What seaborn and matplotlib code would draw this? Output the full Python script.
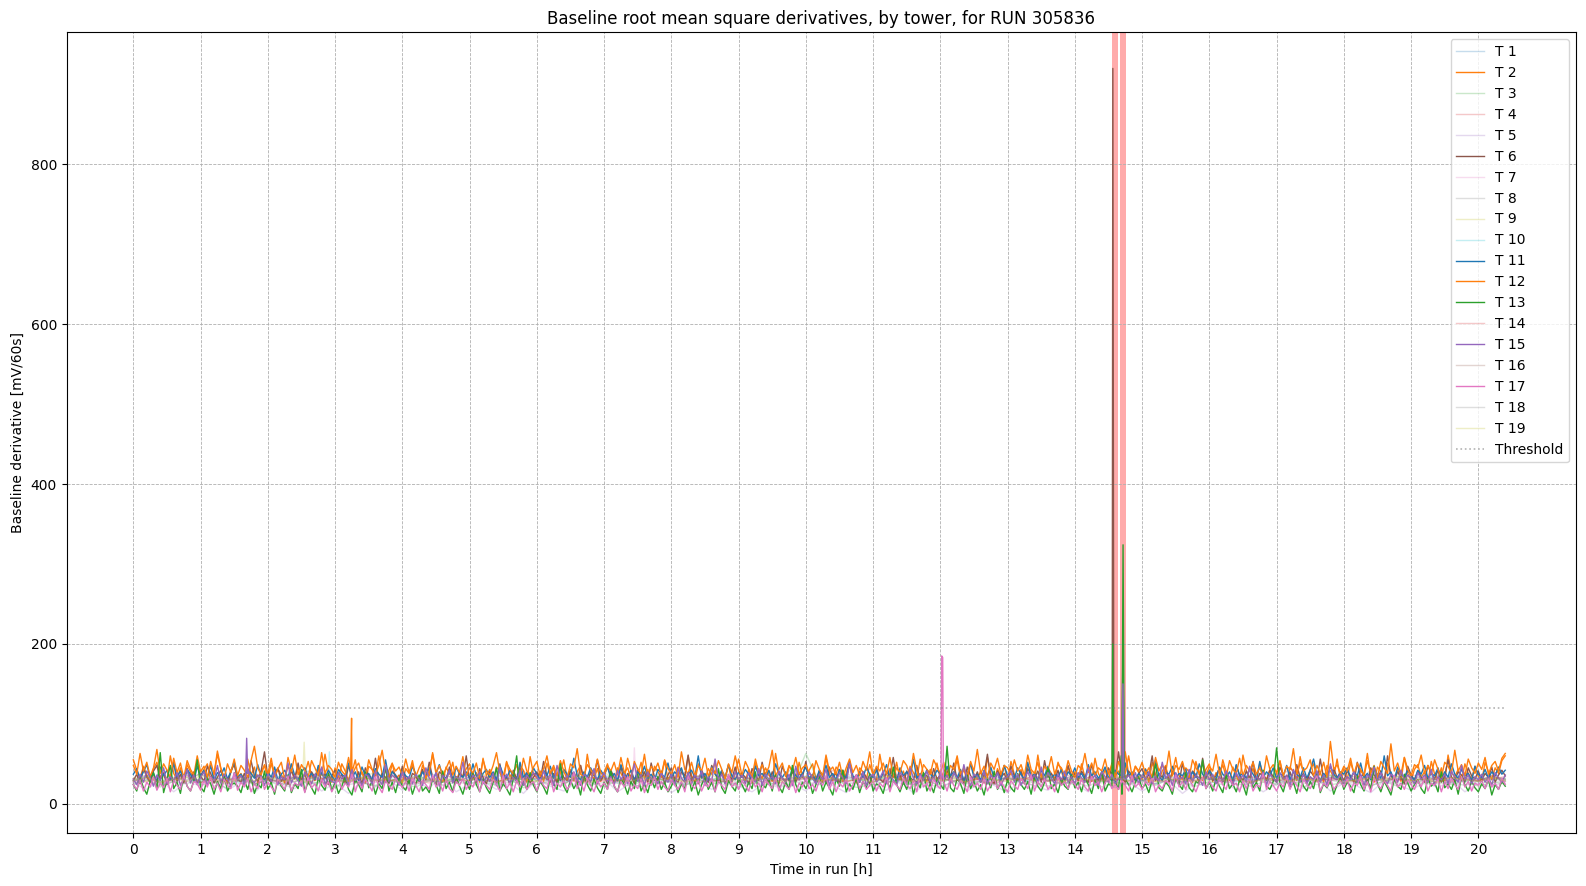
import numpy as np
import pandas as pd
import matplotlib
matplotlib.use("Agg")
import matplotlib.pyplot as plt
import seaborn as sns

RUN = 305836
THRESHOLD = 120
RUN_END_H = 20.4
FLAG_SPANS = [(14.55, 14.635), (14.665, 14.765)]

# ---- highlighted towers, sampled every 3 min (0.05 h) from 0 to 20.4 h ----
t2 = [55, 42, 31, 47, 36, 28, 44, 52, 33, 39, 29, 60, 38, 30, 45, 27, 49, 40, 31, 53,
      35, 43, 50, 29, 37, 66, 45, 33, 27, 42, 49, 31, 38, 28, 56, 36, 46, 26, 40, 48,
      30, 51, 34, 43, 37, 26, 58, 41, 32, 46, 28, 38, 53, 35, 29, 44, 36, 62, 39, 27,
      45, 32, 50, 41, 28, 36, 55, 31, 40, 26, 47, 43, 33, 60, 37, 27, 42, 51, 31, 36,
      26, 44, 38, 54, 33, 29, 48, 40, 35, 64, 41, 31, 27, 46, 37, 52, 28, 40, 34, 44,
      50, 31, 39, 27, 57, 35, 43, 29, 46, 40, 26, 53, 34, 39, 30, 48, 42, 27, 59, 37,
      32, 41, 28, 51, 35, 45, 26, 38, 55, 32, 43, 29, 40, 48, 27, 62, 37, 31, 44, 28,
      39, 50, 33, 27, 45, 38, 30, 57, 41, 28, 35, 52, 31, 43, 26, 47, 40, 33, 54, 30,
      38, 28, 46, 43, 31, 60, 35, 27, 50, 39, 30, 44, 37, 53, 28, 41, 33, 49, 27, 38,
      56, 35, 29, 43, 26, 51, 40, 31, 45, 37, 28, 63, 38, 33, 27, 47, 41, 30, 52, 35,
      28, 42, 50, 31, 39, 27, 58, 37, 29, 46, 41, 28, 38, 54, 33, 26, 45, 40, 31, 49,
      36, 29, 62, 38, 28, 44, 34, 52, 30, 41, 27, 47, 39, 31, 56, 37, 28, 43, 33, 51,
      30, 40, 46, 27, 38, 55, 33, 43, 28, 50, 37, 31, 41, 26, 58, 38, 29, 44, 34, 48,
      28, 53, 37, 30, 43, 27, 49, 40, 29, 61, 35, 28, 45, 38, 31, 52, 41, 27, 46, 36,
      40, 29, 50, 33, 44, 28, 57, 38, 30, 43, 27, 51, 35, 41, 29, 65, 37, 28, 47, 39,
      31, 44, 27, 52, 37, 29, 41, 48, 28, 39, 58, 35, 30, 45, 40, 27, 53, 37, 29, 43,
      50, 28, 39, 31, 55, 40, 29, 46, 35, 27, 61, 41, 32, 44, 28, 51, 37, 30, 43, 29,
      38, 54, 33, 27, 46, 40, 29, 59, 37, 28, 43, 50, 31, 39, 27, 48, 41, 34, 56, 30,
      44, 30, 52, 38, 28, 42, 35, 63, 33, 27, 46, 40, 29, 51, 37, 30, 44, 28, 58, 38,
      29, 43, 49, 33, 40, 27, 53, 37, 30, 45, 28, 61, 39, 34, 43, 29, 50, 38, 31, 47,
      34, 28, 52, 40, 30, 45, 38, 54, 60]
t12 = [48, 37, 63, 41, 52, 34, 45, 68, 38, 50, 42, 33, 57, 39, 51, 32, 54, 43, 36, 60,
       40, 47, 33, 53, 37, 62, 44, 31, 50, 39, 56, 35, 48, 42, 33, 54, 72, 45, 36, 49,
       37, 57, 34, 44, 52, 31, 47, 40, 61, 36, 49, 42, 33, 54, 45, 35, 64, 38, 48, 43,
       33, 52, 41, 36, 58, 35, 45, 51, 38, 31, 55, 43, 36, 48, 67, 40, 33, 50, 41, 46,
       36, 56, 39, 49, 34, 45, 53, 32, 41, 62, 38, 48, 35, 44, 54, 36, 47, 39, 59, 34,
       45, 38, 51, 32, 55, 41, 36, 48, 64, 39, 34, 52, 43, 37, 49, 32, 57, 41, 35, 46,
       53, 34, 44, 60, 38, 48, 35, 54, 41, 31, 50, 45, 69, 37, 34, 49, 43, 36, 56, 39,
       34, 48, 41, 52, 36, 58, 39, 45, 31, 53, 43, 37, 62, 34, 47, 41, 51, 36, 55, 44,
       37, 49, 33, 65, 43, 38, 52, 35, 48, 41, 57, 34, 45, 38, 54, 43, 31, 50, 39, 60,
       41, 35, 53, 44, 33, 56, 39, 49, 37, 46, 67, 35, 43, 51, 34, 48, 41, 58, 37, 45,
       49, 38, 33, 54, 43, 35, 61, 41, 46, 37, 52, 33, 45, 56, 39, 48, 35, 53, 42, 65,
       35, 47, 41, 51, 37, 58, 33, 45, 39, 54, 48, 35, 63, 41, 33, 49, 43, 37, 55, 46,
       38, 52, 33, 48, 43, 60, 37, 45, 35, 53, 41, 68, 38, 47, 33, 51, 43, 57, 37, 48,
       45, 36, 55, 41, 49, 35, 61, 43, 38, 52, 33, 47, 41, 59, 37, 49, 45, 35, 54, 41,
       33, 48, 43, 63, 39, 51, 35, 45, 41, 56, 37, 49, 33, 53, 43, 38, 60, 35, 47, 41,
       52, 37, 45, 33, 58, 41, 49, 38, 66, 35, 48, 43, 53, 37, 33, 55, 45, 38, 51, 35,
       47, 41, 62, 37, 49, 33, 54, 43, 38, 57, 35, 48, 41, 52, 37, 45, 33, 60, 43, 49,
       38, 53, 35, 47, 43, 69, 37, 51, 41, 45, 55, 35, 48, 38, 52, 33, 78, 43, 49, 37,
       47, 41, 57, 37, 51, 43, 35, 54, 38, 48, 33, 53, 45, 38, 75, 41, 51, 37, 58, 43,
       35, 49, 45, 61, 38, 48, 37, 55, 43, 33, 52, 47, 38, 67, 41, 49, 35, 56, 45, 38,
       51, 43, 58, 37, 48, 53, 41, 57, 63]
t6 = [29, 37, 25, 45, 33, 27, 41, 48, 30, 38, 24, 34, 52, 28, 37, 26, 44, 31, 40, 25,
      35, 28, 47, 38, 26, 33, 42, 29, 24, 40, 50, 31, 27, 38, 29, 54, 35, 28, 41, 65,
      33, 26, 38, 45, 28, 35, 24, 42, 31, 51, 29, 37, 25, 40, 33, 46, 27, 38, 24, 35,
      42, 29, 37, 26, 48, 33, 27, 40, 24, 45, 35, 29, 57, 27, 38, 33, 25, 41, 36, 28,
      47, 31, 25, 38, 35, 28, 43, 30, 52, 33, 24, 40, 36, 27, 46, 31, 26, 38, 33, 60,
      29, 38, 27, 44, 33, 25, 40, 36, 29, 50, 27, 35, 24, 42, 31, 45, 27, 38, 26, 33,
      40, 29, 53, 35, 27, 38, 25, 46, 33, 29, 41, 36, 25, 48, 31, 27, 40, 35, 55, 29,
      36, 25, 42, 33, 29, 47, 27, 38, 35, 25, 44, 31, 40, 27, 51, 33, 29, 41, 25, 36,
      45, 31, 27, 40, 35, 61, 29, 37, 25, 42, 33, 27, 48, 38, 29, 41, 25, 35, 31, 46,
      27, 38, 33, 25, 44, 36, 29, 52, 33, 27, 40, 31, 25, 47, 36, 29, 41, 27, 38, 33,
      53, 29, 36, 25, 41, 35, 27, 46, 33, 38, 25, 42, 31, 50, 29, 36, 27, 40, 33, 25,
      38, 45, 31, 27, 40, 35, 58, 29, 36, 25, 41, 33, 29, 48, 27, 38, 35, 25, 44, 31,
      36, 27, 41, 33, 51, 29, 38, 25, 46, 35, 29, 40, 27, 36, 62, 31, 25, 41, 33, 38,
      27, 47, 35, 29, 40, 25, 44, 36, 31, 41, 27, 54, 33, 38, 29, 42, 25, 36, 48, 31,
      38, 29, 41, 33, 27, 49, 35, 29, 40, 25, 45, 36, 31, 65, 33, 27, 41, 35, 29, 38,
      44, 31, 36, 60, 29, 38, 33, 46, 27, 40, 35, 25, 51, 33, 29, 41, 36, 27, 57, 33,
      40, 29, 35, 45, 27, 38, 33, 25, 48, 36, 29, 41, 31, 53, 27, 38, 35, 29, 42, 33,
      27, 46, 36, 29, 40, 25, 49, 33, 38, 27, 41, 35, 29, 56, 31, 36, 25, 44, 33, 38,
      29, 41, 35, 27, 52, 33, 38, 25, 45, 36, 31, 41, 27, 60, 35, 29, 40, 33, 25, 47,
      36, 29, 41, 33, 27, 48, 38, 31, 42, 27, 35, 55, 33, 29, 40, 36, 27, 45, 35, 31,
      41, 29, 38, 33, 46, 27, 36, 42, 35]
t11 = [37, 44, 31, 40, 49, 33, 38, 28, 46, 35, 42, 30, 51, 34, 41, 31, 43, 37, 28, 47,
       35, 42, 32, 48, 29, 39, 35, 45, 31, 40, 53, 34, 37, 29, 43, 38, 32, 49, 35, 30,
       40, 33, 46, 29, 37, 42, 32, 50, 35, 29, 40, 45, 33, 38, 30, 48, 37, 32, 42, 35,
       29, 43, 37, 33, 51, 32, 40, 29, 46, 35, 38, 30, 44, 37, 33, 55, 32, 40, 35, 29,
       42, 35, 32, 47, 37, 29, 40, 33, 45, 30, 38, 49, 35, 32, 42, 29, 46, 37, 33, 40,
       32, 50, 35, 29, 38, 43, 33, 40, 30, 48, 37, 32, 42, 35, 29, 52, 33, 39, 32, 45,
       37, 30, 42, 35, 47, 32, 38, 29, 43, 37, 33, 57, 35, 30, 40, 33, 45, 37, 29, 42,
       35, 46, 32, 38, 29, 49, 37, 33, 42, 30, 40, 35, 47, 32, 37, 29, 43, 38, 33, 51,
       32, 40, 35, 45, 30, 37, 42, 33, 60, 32, 38, 29, 46, 37, 33, 42, 32, 49, 35, 30,
       40, 33, 43, 37, 29, 47, 35, 38, 32, 42, 30, 50, 37, 33, 40, 29, 45, 35, 32, 38,
       46, 32, 37, 29, 42, 35, 48, 33, 38, 30, 43, 37, 32, 53, 35, 29, 40, 33, 46, 37,
       33, 42, 30, 38, 49, 32, 37, 29, 45, 35, 40, 33, 56, 32, 38, 30, 43, 37, 33, 42,
       37, 30, 47, 35, 40, 32, 43, 29, 38, 50, 33, 37, 30, 42, 35, 46, 32, 38, 29, 48,
       35, 40, 32, 45, 37, 30, 52, 33, 38, 29, 42, 35, 47, 32, 37, 33, 43, 30, 40, 35,
       45, 33, 38, 30, 49, 35, 40, 32, 37, 46, 33, 29, 42, 37, 32, 51, 35, 40, 30, 38,
       33, 43, 37, 32, 55, 35, 29, 40, 37, 47, 32, 38, 35, 43, 30, 40, 33, 50, 37, 32,
       42, 35, 30, 46, 37, 33, 40, 29, 49, 35, 38, 32, 43, 37, 30, 53, 33, 40, 35, 45,
       32, 38, 35, 48, 30, 40, 37, 33, 45, 32, 42, 56, 35, 29, 38, 33, 47, 37, 32, 40,
       37, 45, 32, 40, 35, 51, 33, 38, 30, 43, 37, 32, 60, 35, 40, 29, 46, 37, 33, 42,
       35, 30, 42, 37, 48, 32, 38, 35, 45, 30, 40, 33, 50, 37, 32, 43, 35, 38, 29, 47,
       37, 33, 43, 32, 40, 35, 46, 37, 42]
t13 = [24, 16, 33, 20, 12, 28, 39, 18, 64, 14, 30, 48, 19, 27, 13, 36, 22, 16, 29, 55,
       21, 15, 32, 25, 12, 28, 19, 37, 16, 24, 26, 22, 14, 30, 18, 34, 13, 25, 20, 41,
       18, 27, 12, 31, 22, 16, 36, 14, 25, 19, 43, 15, 28, 20, 12, 32, 23, 17, 38, 16,
       27, 13, 22, 34, 18, 11, 30, 24, 15, 40, 20, 28, 12, 25, 19, 47, 16, 27, 14, 32,
       22, 17, 30, 12, 25, 36, 16, 21, 14, 31, 24, 13, 41, 19, 27, 15, 34, 22, 12, 28,
       18, 38, 24, 15, 31, 20, 13, 27, 45, 16, 25, 19, 11, 32, 60, 14, 29, 18, 39, 23,
       15, 28, 21, 12, 34, 25, 18, 50, 22, 14, 30, 19, 27, 11, 36, 24, 16, 31, 20, 13,
       27, 18, 41, 22, 15, 32, 24, 12, 28, 19, 37, 16, 25, 14, 31, 20, 34, 18, 27, 15,
       22, 31, 14, 25, 19, 38, 16, 28, 11, 24, 33, 18, 27, 15, 44, 20, 13, 29, 22, 16,
       32, 24, 15, 27, 19, 40, 12, 25, 20, 31, 16, 36, 22, 14, 28, 18, 48, 24, 15, 27,
       19, 30, 13, 24, 35, 16, 27, 20, 11, 31, 22, 42, 15, 25, 18, 32, 14, 28, 20, 38,
       16, 25, 22, 13, 30, 19, 46, 24, 15, 27, 18, 34, 12, 28, 20, 39, 16, 25, 14, 31,
       24, 18, 72, 20, 15, 32, 25, 13, 36, 19, 28, 16, 24, 11, 31, 20, 41, 18, 27, 14,
       30, 20, 15, 38, 24, 18, 28, 12, 34, 22, 16, 27, 45, 19, 25, 14, 31, 22, 18, 36,
       20, 27, 15, 32, 24, 13, 30, 19, 40, 16, 25, 22, 28, 18, 12, 31, 24, 15, 27, 34,
       19, 25, 14, 30, 50, 20, 16, 27, 22, 12, 32, 24, 18, 39, 20, 15, 28, 25, 55, 19,
       27, 16, 31, 22, 14, 36, 19, 25, 15, 30, 24, 11, 33, 20, 27, 16, 42, 22, 18, 28,
       70, 24, 15, 31, 20, 27, 13, 34, 22, 16, 28, 19, 38, 14, 25, 20, 30, 12, 24, 33,
       18, 27, 22, 14, 35, 24, 16, 30, 19, 47, 25, 15, 28, 20, 11, 31, 22, 18, 37, 26,
       16, 24, 30, 19, 13, 32, 22, 27, 15, 40, 20, 25, 18, 30, 12, 34, 24, 16, 28, 20,
       15, 25, 19, 31, 11, 24, 18, 28, 22]
t15 = [31, 24, 37, 27, 41, 33, 22, 36, 29, 45, 25, 34, 29, 39, 23, 31, 43, 26, 36, 24,
       33, 40, 23, 34, 29, 48, 26, 37, 31, 22, 39, 29, 35, 24, 44, 31, 26, 36, 33, 23,
       37, 28, 41, 24, 34, 30, 51, 26, 36, 29, 22, 40, 33, 25, 37, 30, 46, 24, 34, 28,
       26, 39, 31, 36, 23, 43, 29, 33, 22, 37, 34, 25, 41, 30, 24, 49, 28, 36, 32, 23,
       40, 28, 34, 25, 37, 30, 23, 45, 32, 28, 39, 22, 36, 30, 42, 26, 34, 29, 52, 32,
       24, 36, 30, 40, 25, 34, 28, 38, 23, 46, 30, 37, 25, 33, 28, 42, 23, 36, 30, 39,
       34, 26, 41, 30, 37, 23, 48, 32, 27, 36, 25, 40, 30, 23, 37, 33, 27, 44, 25, 32,
       39, 28, 34, 23, 42, 30, 37, 25, 32, 50, 28, 36, 23, 40, 30, 34, 25, 38, 32, 27,
       37, 23, 45, 32, 27, 39, 25, 36, 30, 41, 23, 34, 28, 56, 30, 37, 25, 34, 28, 40,
       30, 36, 25, 39, 32, 27, 44, 23, 37, 30, 34, 25, 41, 32, 27, 37, 23, 47, 30, 36,
       28, 40, 32, 25, 37, 30, 43, 23, 34, 28, 39, 32, 25, 51, 30, 36, 27, 40, 23, 34,
       37, 27, 32, 41, 25, 36, 30, 23, 39, 33, 27, 45, 32, 25, 37, 30, 41, 28, 34, 23,
       40, 30, 36, 25, 39, 32, 27, 49, 30, 23, 37, 34, 27, 41, 25, 36, 30, 39, 23, 32,
       34, 42, 27, 37, 23, 32, 40, 30, 36, 25, 46, 28, 39, 32, 25, 37, 30, 41, 27, 34,
       25, 39, 32, 27, 45, 30, 36, 23, 40, 34, 27, 37, 25, 32, 41, 30, 36, 27, 39, 25,
       36, 30, 40, 25, 34, 28, 52, 32, 37, 23, 39, 30, 34, 25, 43, 28, 36, 32, 23, 40,
       30, 37, 25, 34, 28, 41, 32, 23, 39, 30, 36, 27, 47, 25, 34, 30, 40, 23, 37, 32,
       27, 39, 30, 36, 23, 43, 32, 27, 37, 25, 34, 30, 41, 27, 36, 23, 50, 32, 30, 37,
       25, 34, 30, 40, 27, 37, 23, 36, 32, 46, 28, 39, 30, 25, 37, 34, 27, 42, 30, 36,
       32, 25, 39, 30, 36, 27, 43, 23, 34, 30, 37, 25, 41, 32, 27, 48, 30, 36, 25, 34,
       30, 37, 27, 34, 23, 39, 32, 27, 36]
t17 = [24, 18, 30, 16, 27, 21, 34, 17, 26, 20, 32, 15, 29, 23, 18, 36, 22, 16, 28, 25,
       17, 29, 21, 33, 18, 26, 15, 31, 23, 19, 38, 17, 27, 21, 32, 15, 25, 19, 34, 18,
       27, 21, 15, 31, 24, 18, 35, 16, 26, 23, 29, 14, 33, 20, 25, 16, 31, 21, 28, 15,
       23, 32, 18, 26, 21, 37, 15, 28, 19, 31, 24, 16, 34, 21, 14, 29, 23, 18, 32, 26,
       20, 28, 16, 33, 23, 15, 29, 24, 18, 36, 21, 27, 16, 31, 19, 14, 28, 23, 32, 18,
       26, 21, 33, 15, 28, 23, 18, 31, 24, 16, 35, 19, 26, 15, 29, 21, 32, 18, 24, 28,
       16, 31, 23, 19, 34, 15, 26, 21, 29, 18, 24, 39, 19, 28, 16, 32, 23, 15, 29, 21,
       26, 18, 32, 23, 15, 28, 21, 34, 16, 24, 19, 31, 14, 26, 23, 33, 18, 28, 21, 16,
       30, 23, 18, 28, 15, 35, 24, 19, 29, 16, 26, 21, 32, 15, 28, 23, 18, 37, 21, 26,
       18, 29, 23, 16, 32, 21, 26, 15, 31, 24, 19, 33, 16, 28, 23, 18, 29, 14, 26, 21,
       32, 19, 24, 16, 29, 23, 34, 18, 28, 15, 26, 21, 31, 16, 24, 36, 19, 28, 18, 23,
       29, 16, 26, 21, 33, 15, 28, 23, 18, 32, 24, 19, 29, 15, 35, 21, 26, 16, 31, 23,
       19, 28, 16, 32, 23, 18, 29, 24, 15, 34, 21, 26, 18, 31, 16, 24, 33, 19, 28, 21,
       15, 29, 23, 18, 32, 26, 19, 37, 16, 28, 21, 31, 18, 24, 15, 33, 23, 28, 19, 29,
       24, 18, 31, 21, 16, 34, 23, 28, 15, 26, 32, 19, 24, 18, 29, 23, 16, 35, 21, 26,
       18, 28, 23, 32, 15, 24, 19, 29, 26, 16, 36, 21, 28, 18, 31, 23, 15, 26, 33, 19,
       28, 21, 16, 31, 24, 18, 34, 23, 26, 15, 29, 19, 32, 16, 24, 21, 38, 18, 28, 23,
       16, 26, 21, 33, 18, 29, 23, 15, 31, 24, 19, 28, 35, 16, 26, 21, 32, 18, 24, 29,
       21, 31, 16, 26, 23, 34, 18, 28, 15, 32, 24, 19, 29, 23, 16, 36, 21, 26, 18, 31,
       24, 18, 29, 21, 33, 16, 26, 23, 31, 15, 28, 19, 32, 24, 18, 34, 21, 28, 16, 26,
       23, 29, 19, 31, 21, 26, 18, 32, 24]

# ---- quiet towers, sampled every 12 min (0.2 h) from 0 to 20.4 h ----
t1 = [28, 34, 25, 31, 38, 27, 33, 29, 36, 24, 30, 35, 27, 41, 29, 32, 26, 37, 30, 28,
      33, 26, 39, 30, 27, 34, 31, 25, 36, 29, 32, 28, 43, 27, 31, 35, 26, 33, 29, 37,
      30, 25, 34, 28, 38, 31, 27, 33, 29, 45, 28, 32, 26, 35, 30, 27, 36, 31, 24, 33,
      29, 37, 27, 32, 30, 40, 26, 34, 29, 31, 35, 27, 33, 28, 38, 30, 25, 34, 31, 29,
      36, 28, 32, 27, 39, 30, 26, 35, 29, 33, 31, 27, 42, 29, 34, 28, 31, 36, 26, 33,
      29, 35, 30]
t3 = [24, 30, 21, 28, 33, 23, 27, 19, 31, 25, 29, 22, 35, 24, 28, 20, 32, 26, 23, 30,
      25, 21, 29, 27, 34, 22, 26, 24, 31, 20, 28, 25, 23, 37, 26, 22, 29, 24, 21, 32,
      27, 23, 30, 25, 28, 21, 26, 24, 27, 22, 63, 25, 33, 23, 20, 28, 26, 31, 22, 27,
      24, 35, 21, 29, 25, 23, 30, 26, 22, 28, 24, 33, 21, 27, 25, 29, 23, 31, 26, 22,
      28, 24, 36, 22, 27, 25, 30, 21, 29, 24, 26, 32, 23, 28, 22, 27, 25, 31, 24, 29,
      22, 27, 25]
t4 = [31, 27, 35, 29, 40, 26, 33, 30, 28, 37, 32, 25, 34, 30, 44, 27, 31, 29, 36, 28,
      33, 30, 26, 38, 31, 28, 35, 27, 32, 41, 29, 34, 26, 31, 37, 28, 30, 33, 27, 35,
      29, 39, 31, 26, 34, 30, 28, 36, 32, 27, 33, 29, 42, 28, 31, 35, 27, 30, 34, 26,
      32, 38, 29, 31, 27, 35, 30, 33, 28, 40, 31, 26, 34, 29, 36, 30, 28, 33, 27, 38,
      31, 29, 35, 27, 32, 30, 44, 28, 33, 29, 36, 26, 31, 34, 28, 37, 30, 27, 33, 31,
      29, 35, 28]
t5 = [26, 18, 30, 15, 28, 22, 33, 17, 27, 14, 29, 25, 19, 31, 16, 26, 13, 28, 21, 30,
      17, 27, 20, 35, 15, 25, 28, 18, 26, 13, 30, 22, 16, 27, 24, 32, 15, 26, 19, 29,
      14, 25, 28, 18, 31, 22, 15, 27, 20, 26, 16, 34, 23, 14, 28, 21, 17, 30, 13, 26,
      19, 29, 16, 27, 23, 14, 31, 22, 17, 28, 25, 15, 33, 20, 27, 16, 25, 29, 13, 26,
      21, 30, 17, 27, 15, 25, 28, 19, 32, 16, 26, 22, 14, 29, 24, 17, 27, 20, 30, 15,
      26, 21, 28]
t7 = [27, 32, 24, 29, 35, 26, 30, 23, 33, 28, 25, 31, 27, 38, 24, 29, 32, 26, 30, 25,
      34, 27, 29, 24, 31, 28, 36, 25, 30, 27, 33, 24, 28, 31, 26, 29, 35, 27, 32, 25,
      29, 26, 34, 28, 30, 24, 31, 27, 29, 33, 25, 28, 32, 26, 30, 37, 27, 29, 24, 31,
      28, 33, 26, 30, 25, 29, 34, 27, 31, 24, 28, 32, 26, 36, 29, 27, 31, 25, 30, 28,
      33, 26, 29, 35, 27, 31, 24, 30, 28, 32, 26, 29, 34, 27, 31, 25, 28, 33, 26, 30,
      28, 32, 27]
t8 = [30, 35, 27, 32, 29, 38, 26, 33, 30, 28, 36, 31, 27, 34, 29, 41, 28, 32, 30, 26,
      35, 29, 33, 27, 31, 37, 28, 30, 34, 26, 32, 29, 39, 27, 31, 33, 28, 30, 36, 27,
      32, 29, 35, 28, 31, 27, 34, 30, 29, 33, 26, 38, 30, 28, 32, 35, 27, 31, 29, 34,
      28, 32, 30, 27, 37, 29, 33, 28, 31, 26, 35, 30, 28, 34, 29, 32, 48, 30, 27, 33,
      31, 28, 36, 29, 32, 27, 34, 30, 28, 33, 31, 29, 37, 28, 32, 30, 27, 35, 29, 31,
      28, 33, 30]
t9 = [32, 28, 36, 30, 33, 27, 35, 31, 29, 38, 30, 34, 28, 33, 31, 36, 29, 32, 40, 30,
      28, 35, 31, 33, 29, 37, 30, 27, 34, 32, 29, 36, 31, 28, 33, 39, 30, 32, 29, 35,
      31, 28, 34, 30, 37, 29, 32, 30, 28, 35, 33, 29, 31, 38, 30, 27, 34, 32, 29, 36,
      31, 33, 28, 35, 30, 32, 29, 41, 31, 28, 34, 30, 33, 29, 36, 31, 28, 35, 32, 30,
      29, 37, 31, 33, 28, 34, 30, 32, 29, 36, 31, 28, 33, 30, 35, 29, 32, 31, 28, 34,
      30, 33, 31]
t10 = [29, 34, 27, 31, 36, 28, 32, 30, 26, 35, 31, 28, 33, 29, 38, 27, 31, 34, 29, 32,
       28, 35, 30, 27, 33, 31, 29, 37, 28, 32, 30, 34, 27, 31, 29, 36, 30, 28, 33, 31,
       27, 34, 29, 32, 30, 38, 28, 31, 33, 29, 35, 27, 30, 32, 29, 34, 31, 28, 36, 30,
       32, 28, 35, 31, 29, 33, 27, 30, 34, 29, 31, 37, 28, 32, 30, 29, 34, 31, 27, 33,
       30, 36, 28, 31, 29, 34, 32, 28, 30, 35, 29, 31, 33, 28, 32, 30, 36, 29, 31, 28,
       33, 30, 32]
t14 = [28, 33, 26, 30, 35, 27, 31, 29, 34, 25, 30, 28, 36, 27, 32, 29, 26, 33, 30, 28,
       35, 26, 31, 29, 27, 34, 30, 28, 32, 26, 37, 29, 31, 27, 33, 30, 28, 35, 26, 31,
       29, 33, 27, 30, 28, 36, 31, 26, 32, 29, 34, 28, 30, 27, 33, 31, 29, 38, 27, 30,
       32, 28, 34, 29, 26, 31, 30, 35, 28, 32, 27, 33, 29, 31, 28, 36, 30, 27, 32, 29,
       34, 28, 31, 26, 33, 30, 29, 35, 27, 32, 30, 28, 34, 29, 31, 27, 33, 30, 28, 32,
       29, 31, 34]
t16 = [31, 36, 28, 33, 30, 38, 27, 32, 29, 35, 31, 28, 34, 30, 37, 29, 33, 31, 27, 35,
       30, 32, 28, 36, 31, 29, 34, 27, 33, 30, 39, 28, 31, 35, 29, 32, 30, 28, 36, 31,
       33, 29, 35, 30, 27, 34, 31, 38, 29, 32, 30, 35, 28, 33, 31, 29, 36, 30, 28, 34,
       32, 29, 31, 37, 28, 33, 30, 35, 29, 31, 34, 28, 32, 30, 36, 29, 33, 31, 28, 35,
       30, 32, 29, 34, 31, 28, 37, 30, 33, 29, 31, 35, 28, 32, 30, 34, 29, 31, 33, 30,
       28, 35, 31]
t18 = [26, 30, 23, 28, 25, 32, 22, 27, 29, 24, 31, 26, 23, 28, 25, 33, 24, 27, 22, 29,
       26, 24, 30, 23, 27, 25, 31, 22, 28, 26, 24, 29, 25, 34, 23, 27, 26, 22, 30, 25,
       28, 24, 26, 31, 23, 27, 25, 29, 22, 28, 26, 24, 32, 25, 27, 23, 29, 26, 24, 30,
       22, 27, 25, 28, 24, 33, 26, 23, 29, 25, 27, 22, 30, 26, 24, 28, 25, 31, 23, 27,
       26, 29, 24, 25, 32, 23, 28, 26, 24, 30, 25, 27, 22, 29, 26, 24, 31, 25, 27, 23,
       28, 26, 29]
t19 = [29, 33, 27, 31, 28, 35, 30, 26, 32, 29, 34, 28, 31, 27, 36, 30, 28, 33, 29, 31,
       27, 34, 30, 28, 32, 29, 37, 27, 31, 30, 28, 33, 29, 35, 27, 31, 30, 28, 34, 29,
       32, 27, 30, 36, 28, 31, 29, 33, 27, 30, 34, 28, 32, 29, 31, 27, 35, 30, 28, 33,
       29, 31, 27, 34, 30, 28, 32, 29, 36, 27, 31, 30, 28, 33, 29, 35, 27, 31, 30, 28,
       34, 29, 32, 27, 30, 33, 28, 31, 29, 36, 27, 30, 32, 28, 34, 29, 31, 27, 33, 30,
       28, 32, 29]

# ---- short excursions (time in h, value) ----
spike_times = {
    2: [3.23, 3.245, 3.26],
    6: [14.555, 14.565, 14.58],
    7: [7.43, 7.45, 7.47],
    9: [2.52, 2.54, 2.56],
    10: [2.90, 2.915, 2.93],
    11: [14.70, 14.715, 14.73],
    12: [14.70, 14.715, 14.73],
    13: [14.553, 14.563, 14.575, 14.69, 14.717, 14.735],
    15: [1.67, 1.685, 1.70, 14.70, 14.715, 14.73],
    17: [12.01, 12.02, 12.035, 12.045],
}
spike_values = {
    2: [40, 107, 42],
    6: [38, 920, 42],
    7: [30, 70, 31],
    9: [35, 77, 33],
    10: [33, 65, 30],
    11: [35, 206, 33],
    12: [40, 191, 42],
    13: [35, 200, 30, 60, 324, 38],
    15: [35, 82, 38, 30, 150, 32],
    17: [28, 185, 183, 30],
}

towers = [t1, t2, t3, t4, t5, t6, t7, t8, t9, t10,
          t11, t12, t13, t14, t15, t16, t17, t18, t19]
highlighted = {2, 6, 11, 12, 13, 15, 17}

palette = sns.color_palette("tab10", 10)

fig, ax = plt.subplots(figsize=(15.86, 8.86), dpi=100)
fig.subplots_adjust(left=0.0421, right=0.9936, top=0.9634, bottom=0.0594)

for i, vals in enumerate(towers):
    tw = i + 1
    x = list(np.linspace(0.0, RUN_END_H, len(vals)))
    y = list(vals)
    if tw in spike_times:
        x += spike_times[tw]
        y += spike_values[tw]
    df = pd.DataFrame({"t": x, "v": y}).sort_values("t")
    sns.lineplot(data=df, x="t", y="v", ax=ax, estimator=None, sort=False,
                 color=palette[i % 10], lw=1.0,
                 alpha=1.0 if tw in highlighted else 0.25,
                 label=f"T {tw}")

thr = pd.DataFrame({"t": [0, RUN_END_H], "v": [THRESHOLD, THRESHOLD]})
sns.lineplot(data=thr, x="t", y="v", ax=ax, color="gray", ls=":", alpha=0.6,
             lw=1.2, label="Threshold", estimator=None)

for a, b in FLAG_SPANS:
    ax.axvspan(a, b, color="red", alpha=0.33, lw=0)

ax.set_xlim(-0.99, 21.45)
ax.set_ylim(-37, 965)
ax.set_xticks(range(0, 21))
ax.set_yticks([0, 200, 400, 600, 800])
ax.grid(True, linestyle="--", linewidth=0.6, color="#b0b0b0")
ax.set_xlabel("Time in run [h]")
ax.set_ylabel("Baseline derivative [mV/60s]")
ax.set_title(f"Baseline root mean square derivatives, by tower, for RUN {RUN}")
ax.legend(loc="upper right")

fig.savefig("out.png", dpi=100)
